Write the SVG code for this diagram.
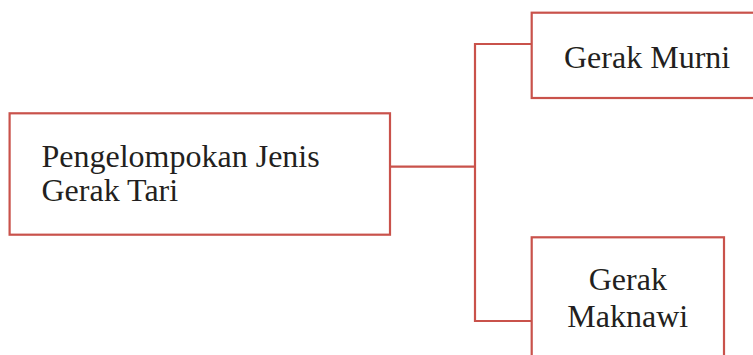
<svg xmlns="http://www.w3.org/2000/svg" width="753" height="355" viewBox="0 0 753 355">
<style>
.box{fill:#fff;stroke:#c9524b;stroke-width:2.2}
.conn{fill:none;stroke:#c9524b;stroke-width:2.2}
text{font-family:'Liberation Serif','Times New Roman',Times,serif;font-size:32px;fill:#231f20}
</style>
<rect width="753" height="355" fill="#fff"/>
<g id="connectors">
<polyline class="conn" points="390,166.7 475,166.7"/>
<polyline class="conn" points="531.7,44 475,44 475,321 531.7,321"/>
</g>
<g id="root">
<rect class="box" x="9.6" y="113.3" width="380.4" height="121.4"/>
<text x="41.5" y="166.7">Pengelompokan Jenis</text>
<text x="41.5" y="201.3">Gerak Tari</text>
</g>
<g id="murni">
<rect class="box" x="531.7" y="12.7" width="240" height="85.3"/>
<text x="564" y="67.7">Gerak Murni</text>
</g>
<g id="maknawi">
<rect class="box" x="531.7" y="237.3" width="192.3" height="140"/>
<text x="627.8" y="290" text-anchor="middle">Gerak</text>
<text x="627.8" y="326.7" text-anchor="middle">Maknawi</text>
</g>
</svg>
